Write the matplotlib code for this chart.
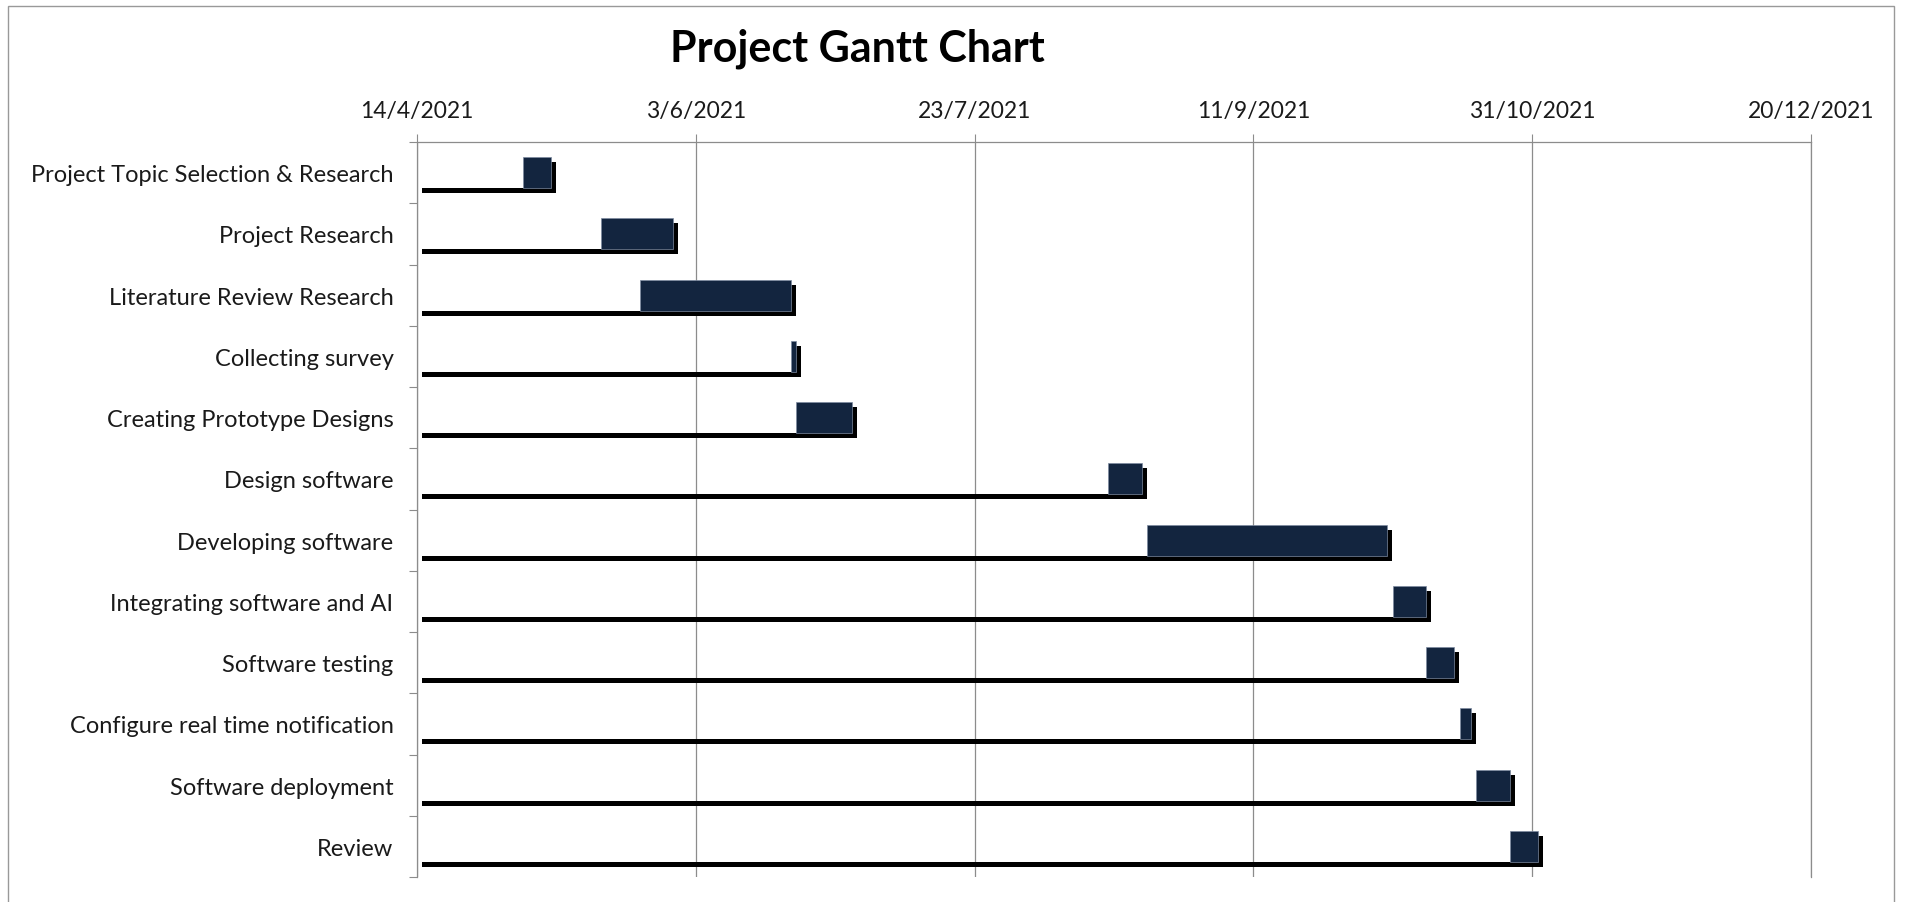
import datetime as dt
import matplotlib
matplotlib.use("Agg")
import matplotlib.pyplot as plt
import matplotlib.dates as mdates
import matplotlib.patheffects as pe
from matplotlib.patches import Rectangle
from matplotlib.ticker import FixedLocator, FuncFormatter
from matplotlib.transforms import offset_copy

tasks = ["Project Topic Selection & Research", "Project Research", "Literature Review Research",
         "Collecting survey", "Creating Prototype Designs", "Design software", "Developing software",
         "Integrating software and AI", "Software testing", "Configure real time notification",
         "Software deployment", "Review"]
start_dates = ["2021-05-03", "2021-05-17", "2021-05-24", "2021-06-20", "2021-06-21", "2021-08-16",
               "2021-08-23", "2021-10-06", "2021-10-12", "2021-10-18", "2021-10-21", "2021-10-27"]
durations = [5, 13, 27, 1, 10, 6, 43, 6, 5, 2, 6, 5]
axis_start = "2021-04-14"
axis_end = "2021-12-20"
tick_step_days = 50

plt.rcParams['font.family'] = ['Lato', 'DejaVu Sans']

W, H, DPI = 1906, 903, 100
fig = plt.figure(figsize=(W / DPI, H / DPI), dpi=DPI)
ax = fig.add_axes([417 / W, 1 - 878 / H, (1811 - 417) / W, (878 - 143) / H])

x0 = mdates.date2num(dt.date.fromisoformat(axis_start))
x1 = mdates.date2num(dt.date.fromisoformat(axis_end))
starts = [mdates.date2num(dt.date.fromisoformat(s)) for s in start_dates]
ypos = list(range(len(tasks)))
bar_h = 0.51
navy = "#13253f"
grey = "#8c8c8c"

# shadow of the hidden offset series: thin strip under each row
row_px = (878 - 143) / len(tasks)
strip_h = 5 / row_px
strip_tr = offset_copy(ax.transData, fig=fig, x=5, y=-5, units='dots')
ax.barh([y + bar_h / 2 - strip_h / 2 for y in ypos], [s - x0 for s in starts], left=x0,
        height=strip_h, color="black", transform=strip_tr, zorder=2)

# task bars with drop shadow
bars = ax.barh(ypos, durations, left=starts, height=bar_h, color=navy,
               edgecolor="#7d8aa0", linewidth=0.5, zorder=3)
for b in bars:
    b.set_path_effects([pe.SimplePatchShadow(offset=(3.6, -3.6), shadow_rgbFace="black", alpha=1.0),
                        pe.Normal()])

ax.set_xlim(x0, x1)
ax.set_ylim(len(tasks) - 0.5, -0.5)

ticks = [x0 + i * tick_step_days for i in range(int((x1 - x0) // tick_step_days) + 1)]
ax.xaxis.set_major_locator(FixedLocator(ticks))
ax.xaxis.set_major_formatter(FuncFormatter(
    lambda v, p: f"{mdates.num2date(v).day}/{mdates.num2date(v).month}/{mdates.num2date(v).year}"))
ax.xaxis.tick_top()
ax.tick_params(axis='x', which='major', direction='out', length=6, width=0.8, color=grey,
               labelsize=16.5, pad=9, labelcolor="#1a1a1a")
ax.grid(axis='x', color=grey, linewidth=0.9)
ax.set_axisbelow(True)

ax.set_yticks(ypos)
ax.set_yticklabels(tasks)
ax.set_yticks([y - 0.5 for y in ypos] + [len(tasks) - 0.5], minor=True)
ax.tick_params(axis='y', which='major', length=0, labelsize=17, pad=17, labelcolor="#1a1a1a")
ax.tick_params(axis='y', which='minor', direction='out', length=6, width=0.8, color=grey)

ax.spines['bottom'].set_visible(False)
for side in ['top', 'left', 'right']:
    ax.spines[side].set_color(grey)
    ax.spines[side].set_linewidth(0.9)

fig.text(857 / W, 1 - 49 / H, "Project Gantt Chart", ha='center', va='center',
         fontsize=31, fontweight='bold', color="black")

fig.add_artist(Rectangle((8 / W, -0.1), (1894 - 8) / W, 1 - 7 / H + 0.1, transform=fig.transFigure,
                         fill=False, edgecolor="#999999", linewidth=1.0))

fig.savefig("out.png", dpi=DPI)
